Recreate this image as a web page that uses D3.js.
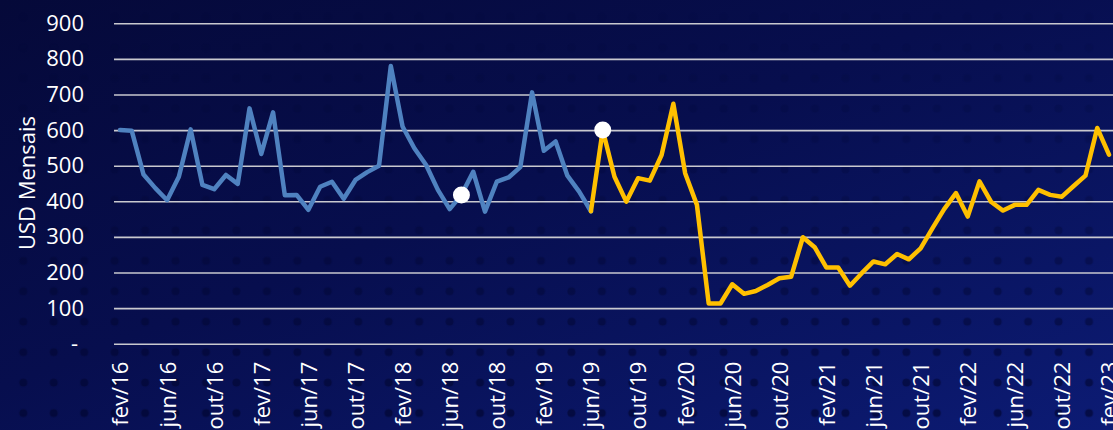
<!DOCTYPE html>
<html>
<head>
<meta charset="utf-8">
<script src="https://cdn.jsdelivr.net/npm/d3@7"></script>
<style>
	html, body { margin: 0; padding: 0; background: #060b40; }
	svg { display: block; }
	text { font-family: 'Open Sans', sans-serif; }
</style>
</head>
<body>
<svg id="chart"></svg>
<script>
// series (USD per month)
const blueStart = new Date(2016, 1, 1)   // fev/16
const blueValues = [600, 598, 475, 437, 403, 469, 602, 446, 434, 474, 449, 661, 533, 650, 417, 418,
	376, 441, 455, 407, 460, 482, 500, 780, 610, 549, 502, 432, 378, 418, 483, 371, 455, 467, 496,
	706, 542, 568, 472, 427, 372]

const yellowStart = new Date(2019, 5, 1) // jun/19
const yellowValues = [372, 600, 469, 399, 465, 458, 530, 674, 479, 390, 113, 113, 167, 140, 148,
	165, 184, 188, 299, 271, 214, 214, 163, 198, 231, 223, 252, 237, 268, 324, 378, 423, 357, 456,
	398, 374, 390, 390, 432, 418, 413, 443, 472, 606, 531]

const highlighted = ["jul/18", "jul/19"]

const monthNames = ["jan", "fev", "mar", "abr", "mai", "jun", "jul", "ago", "set", "out", "nov", "dez"]
const yTicks = [0, 100, 200, 300, 400, 500, 600, 700, 800, 900]
const yLabel = "USD Mensais"

const dims = {
	width: 1113,
	height: 430,
	left: 114,
	right: 1113,
	firstX: 120,
	lastX: 1109,
	top: 23.3,
	bottom: 343.7
}

const monthLabel = d => monthNames[d.getMonth()] + "/" + String(d.getFullYear()).slice(2)

const months = d3.timeMonth.range(blueStart, new Date(2023, 2, 1))
const categories = months.map(monthLabel)

const toPoints = (start, values) => {
	const offset = categories.indexOf(monthLabel(start))
	return values.map((v, i) => ({ label: categories[offset + i], value: v }))
}
const blueSeries = toPoints(blueStart, blueValues)
const yellowSeries = toPoints(yellowStart, yellowValues)

const svg = d3.select("#chart")
	.attr("width", dims.width)
	.attr("height", dims.height)

// background: navy gradient plus dotted texture, dots fade out towards the top
const defs = svg.append("defs")
const grad = defs.append("linearGradient")
	.attr("id", "bg")
	.attr("x1", "0%").attr("y1", "0%")
	.attr("x2", "100%").attr("y2", "100%")
grad.append("stop").attr("offset", "0%").attr("stop-color", "#050939")
grad.append("stop").attr("offset", "45%").attr("stop-color", "#070e4e")
grad.append("stop").attr("offset", "100%").attr("stop-color", "#0c1b74")

const pat = defs.append("pattern")
	.attr("id", "dots")
	.attr("patternUnits", "userSpaceOnUse")
	.attr("width", 30.45).attr("height", 30.45)
	.attr("x", 8.1).attr("y", 2)
pat.append("circle")
	.attr("cx", 15.2).attr("cy", 15.2).attr("r", 4)
	.attr("fill", "#020631")

const fade = defs.append("linearGradient")
	.attr("id", "fade")
	.attr("x1", "0%").attr("y1", "0%")
	.attr("x2", "0%").attr("y2", "100%")
fade.append("stop").attr("offset", "0%").attr("stop-color", "#fff").attr("stop-opacity", 0.05)
fade.append("stop").attr("offset", "45%").attr("stop-color", "#fff").attr("stop-opacity", 0.25)
fade.append("stop").attr("offset", "100%").attr("stop-color", "#fff").attr("stop-opacity", 0.7)
defs.append("mask").attr("id", "dotMask")
	.append("rect").attr("width", dims.width).attr("height", dims.height).attr("fill", "url(#fade)")

svg.append("rect").attr("width", dims.width).attr("height", dims.height).attr("fill", "url(#bg)")
svg.append("rect").attr("width", dims.width).attr("height", dims.height)
	.attr("fill", "url(#dots)")
	.attr("mask", "url(#dotMask)")

const x = d3.scalePoint()
	.domain(categories)
	.range([dims.firstX, dims.lastX])

const y = d3.scaleLinear()
	.domain([0, 900])
	.range([dims.bottom, dims.top])

// y axis with gridlines
const yAxis = svg.append("g")
	.attr("transform", `translate(${dims.left},0)`)
	.call(d3.axisLeft(y)
		.tickValues(yTicks)
		.tickSize(-(dims.right - dims.left))
		.tickPadding(30)
		.tickFormat(d => d === 0 ? "-" : d))
yAxis.attr("font-family", null)
yAxis.select(".domain").remove()
yAxis.selectAll(".tick line")
	.attr("stroke", "#c9c9cf")
	.attr("stroke-width", 1.6)
yAxis.selectAll(".tick text")
	.attr("fill", "#ffffff")
	.style("font-family", "'Open Sans', sans-serif")
	.style("font-size", "22px")
	.attr("dx", d => d === 0 ? -6 : 0)

// x axis, every fourth month
const xAxis = svg.append("g")
	.attr("transform", `translate(0,${dims.bottom})`)
	.call(d3.axisBottom(x)
		.tickValues(categories.filter((d, i) => i % 4 === 0))
		.tickSize(0))
xAxis.attr("font-family", null)
xAxis.select(".domain").remove()
xAxis.selectAll(".tick text")
	.attr("transform", "rotate(-90)")
	.attr("text-anchor", "end")
	.attr("x", -18)
	.attr("y", 0)
	.attr("dy", "0.36em")
	.attr("fill", "#ffffff")
	.style("font-family", "'Open Sans', sans-serif")
	.style("font-size", "22px")

svg.append("text")
	.attr("transform", "translate(35,183) rotate(-90)")
	.attr("text-anchor", "middle")
	.attr("fill", "#ffffff")
	.style("font-family", "'Open Sans', sans-serif")
	.style("font-size", "22px")
	.text(yLabel)

const line = d3.line()
	.x(d => x(d.label))
	.y(d => y(d.value))

svg.append("path")
	.datum(blueSeries)
	.attr("d", line)
	.attr("fill", "none")
	.attr("stroke", "#4f82c0")
	.attr("stroke-width", 4.5)
	.attr("stroke-linejoin", "round")
	.attr("stroke-linecap", "round")

svg.append("path")
	.datum(yellowSeries)
	.attr("d", line)
	.attr("fill", "none")
	.attr("stroke", "#ffc000")
	.attr("stroke-width", 4.5)
	.attr("stroke-linejoin", "round")
	.attr("stroke-linecap", "round")

const allPoints = blueSeries.concat(yellowSeries.slice(1))
svg.selectAll(".marker")
	.data(allPoints.filter(d => highlighted.includes(d.label)))
	.join("circle")
		.attr("class", "marker")
		.attr("cx", d => x(d.label))
		.attr("cy", d => y(d.value))
		.attr("r", 8.5)
		.attr("fill", "#ffffff")
</script>
</body>
</html>
